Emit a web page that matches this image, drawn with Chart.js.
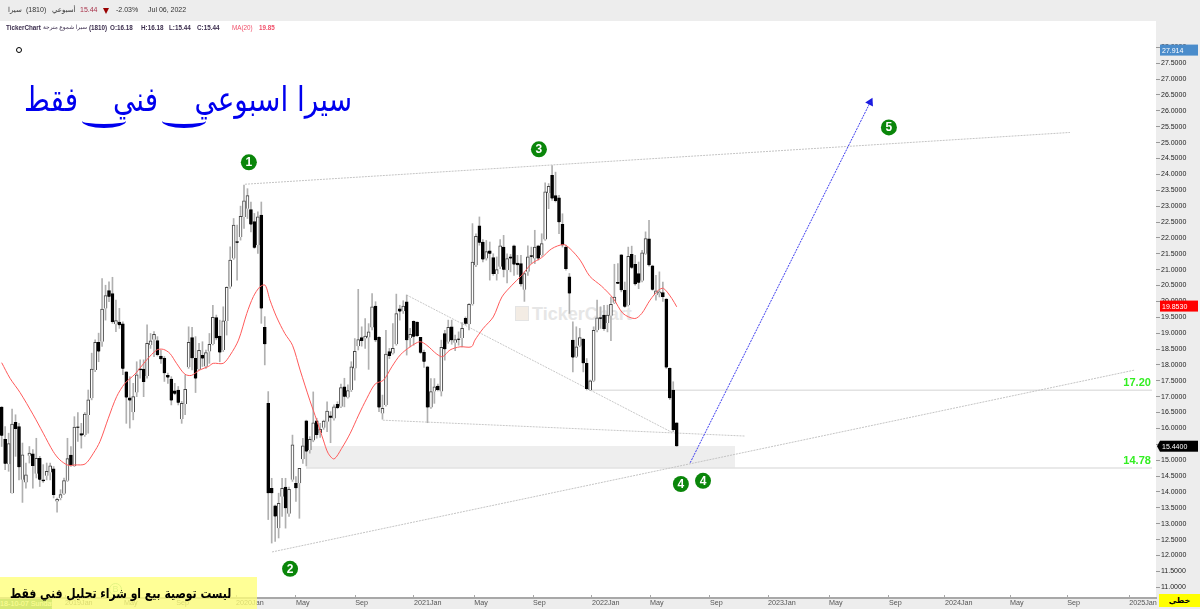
<!DOCTYPE html>
<html lang="ar">
<head>
<meta charset="utf-8">
<title>سيرا اسبوعي</title>
<style>
    html, body { margin: 0; padding: 0; background: #fff; }
    body { position: relative; width: 1200px; height: 609px; overflow: hidden; font-family: "Liberation Sans", "DejaVu Sans", sans-serif; }
    .abs { position: absolute; white-space: nowrap; }
    #chart { position: absolute; left: 0; top: 0; z-index: 1; }
    .over { z-index: 2; }
    .head { font-size: 7px; line-height: 10px; top: 5px; color: #333; }
    .sub { font-size: 6.3px; line-height: 9px; top: 23px; color: #3b2d4d; font-weight: bold; }
    .hand { color: #0000ee; font-family: "DejaVu Sans", sans-serif; font-size: 34px; line-height: 44px; top: 77px; direction: rtl; transform: scaleX(.82); transform-origin: right center; }
    .swash { height: 10px; border-bottom: 4px solid #0000ee; border-radius: 0 0 50% 50%; }
</style>
</head>
<body>
<div class="abs" style="left:0;top:0;width:1200px;height:21px;background:#ededed"></div>
<div class="abs" style="left:1156px;top:21px;width:44px;height:588px;background:#ededed"></div>
<div class="abs" style="left:0;top:598px;width:1156px;height:11px;background:#ededed"></div>
<div class="abs" style="left:515px;top:306px;width:12px;height:13px;background:#f3ece4;border:1px solid #e4e4e4"></div>
<div class="abs" style="left:532px;top:304px;font:bold 18px 'Liberation Sans',sans-serif;color:#e6e6e6">TickerChart</div>

<canvas id="chart" width="1200" height="609"></canvas>

<div class="abs over head" style="left:8px">سيرا</div>
<div class="abs over head" style="left:26px">(1810)</div>
<div class="abs over head" style="left:52px">أسبوعي</div>
<div class="abs over head" style="left:80px;color:#a8324a">15.44</div>
<div class="abs over" style="left:103px;top:8px;width:0;height:0;border-left:3.5px solid transparent;border-right:3.5px solid transparent;border-top:6px solid #990000"></div>
<div class="abs over head" style="left:116px" dir="ltr">&#x200E;-2.03%</div>
<div class="abs over head" style="left:148px">Jul 06, 2022</div>

<div class="abs over sub" style="left:6px">TickerChart</div>
<div class="abs over sub" style="left:43px;font-weight:normal;font-size:5.8px">سيرا شموع مترجة</div>
<div class="abs over sub" style="left:89px">(1810)</div>
<div class="abs over sub" style="left:110px">O:16.18</div>
<div class="abs over sub" style="left:141px">H:16.18</div>
<div class="abs over sub" style="left:169px">L:15.44</div>
<div class="abs over sub" style="left:197px">C:15.44</div>
<div class="abs over sub" style="left:232px;color:#f0506a;font-weight:normal">MA(20)</div>
<div class="abs over sub" style="left:259px;color:#f0506a">19.85</div>

<div class="abs over" style="left:16px;top:47px;width:4px;height:4px;border:1.5px solid #000;border-radius:50%"></div>

<div class="abs over hand" style="left:170px;width:182px;text-align:right">سيرا اسبوعي</div>
<div class="abs over hand" style="left:100px;width:58px;text-align:right">فني</div>
<div class="abs over hand" style="left:26px;width:52px;text-align:right">فقط</div>
<div class="abs over swash" style="left:82px;top:114px;width:44px"></div>
<div class="abs over swash" style="left:162px;top:114px;width:44px"></div>

<div class="abs over" style="left:0;top:599px;width:52px;height:10px;background:#4f9d5f;overflow:hidden;color:#fff;font-size:7.2px;line-height:10px"><span style="margin-left:-8px">2018-10-07 Sunday</span></div>
<div class="abs over" style="left:109px;top:583px;width:11px;height:11px;border:1px solid #7fc8a8;border-radius:50%;color:#7fc8a8;font-size:9px;line-height:11px;text-align:center">B</div>
<div class="abs over" style="left:0;top:577px;width:257px;height:32px;background:rgba(255,255,120,.78)"></div>
<div class="abs over" style="left:0;top:581px;width:257px;text-align:center;direction:rtl;font:bold 13.5px 'DejaVu Sans',sans-serif;line-height:24px;color:#000;transform:scaleX(.8)">ليست توصية بيع او شراء تحليل فني فقط</div>
<div class="abs over" style="left:1159px;top:594px;width:41px;height:13px;background:#ffff00;text-align:center;font:bold 8px 'DejaVu Sans',sans-serif;line-height:13px;color:#000">خطي</div>

<script src="https://cdn.jsdelivr.net/npm/chart.js@4/dist/chart.umd.js"></script>
<script>
    // weekly candles
    var opens = [
        16.67,15.66,14.87,13.96,16.19,16.06,14.38,14.30,15.14,15.20,
        14.57,15.06,14.38,14.51,14.61,14.73,13.70,13.81,13.94,14.35,
        15.16,14.82,16.05,15.84,15.79,16.42,16.95,17.84,18.71,18.73,
        19.78,20.34,20.25,19.28,19.35,19.29,17.78,16.96,16.51,17.13,
        17.88,17.87,17.65,18.63,18.79,18.77,18.28,18.21,17.67,17.55,
        17.18,17.21,16.30,16.77,17.93,18.86,18.21,17.87,18.30,17.95,
        18.42,18.66,19.49,18.91,18.47,19.38,20.46,21.35,21.88,22.03,
        22.66,22.92,22.89,22.51,21.77,22.72,19.18,16.79,14.11,13.56,
        12.86,13.85,14.15,13.31,14.38,14.27,14.27,15.03,16.24,15.32,
        15.62,16.24,15.85,16.02,16.21,16.40,16.31,16.76,16.68,17.31,
        16.97,17.21,17.89,18.59,18.86,18.83,18.86,19.18,19.85,18.87,
        16.47,16.74,18.42,18.36,18.65,19.77,19.69,19.99,18.85,19.37,
        19.35,18.87,18.40,17.94,16.66,17.16,17.33,17.16,18.99,18.73,
        19.20,18.70,18.82,18.85,19.47,19.28,19.91,21.14,22.38,21.87,
        21.35,21.59,21.38,20.86,21.09,21.71,20.98,21.40,21.75,21.21,
        21.19,20.37,20.93,21.44,21.35,21.75,21.45,21.95,23.41,23.97,
        23.33,23.26,22.43,21.71,20.77,18.78,18.26,18.60,18.81,18.05,
        17.21,17.50,19.09,19.49,19.57,19.32,19.55,19.96,20.60,21.47,
        20.35,19.88,21.48,21.17,20.88,20.65,21.50,21.97,21.12,20.19,
        20.25,20.28,20.07,17.89,17.21,16.18
    ];
    var highs = [
        16.69,16.06,15.85,16.61,16.43,16.16,15.54,14.91,15.43,15.33,
        15.69,15.12,14.86,14.91,14.91,14.80,13.81,14.07,14.44,15.69,
        15.43,16.37,16.50,16.16,16.50,17.21,18.37,18.79,19.00,20.72,
        20.51,20.62,20.76,20.04,19.78,19.36,17.79,17.63,17.42,18.10,
        18.16,18.16,19.26,18.99,19.05,18.89,18.47,18.26,17.74,17.63,
        17.42,17.32,16.85,17.69,19.20,19.18,18.89,18.68,18.73,18.47,
        18.99,19.88,19.57,19.41,19.83,20.46,21.72,22.61,22.40,23.00,
        23.66,23.55,23.13,22.77,22.82,23.13,19.52,17.16,14.43,13.59,
        13.96,14.43,14.43,14.15,15.79,14.48,14.74,15.69,16.26,15.74,
        17.15,16.32,16.16,16.26,16.84,16.53,16.74,16.84,17.40,17.58,
        17.37,18.10,18.83,20.38,19.20,19.46,19.30,20.25,19.99,18.89,
        17.05,19.09,18.52,19.30,20.23,19.88,20.02,20.20,19.15,19.39,
        19.36,18.87,18.47,17.96,17.57,17.57,17.40,18.78,19.09,19.41,
        19.41,18.94,19.04,19.33,19.51,19.93,22.45,22.13,22.66,21.95,
        21.92,21.87,21.50,21.40,21.95,22.08,21.50,21.48,21.77,21.45,
        21.45,20.93,21.75,21.71,22.24,21.77,22.13,23.73,23.71,24.28,
        24.07,23.34,22.76,21.77,20.88,19.36,19.20,19.15,18.83,18.20,
        17.52,19.20,20.04,19.83,19.88,19.88,20.14,21.17,21.19,21.48,
        20.61,21.71,21.74,21.45,21.24,21.61,22.19,22.55,21.14,20.82,
        20.93,20.61,20.09,17.91,17.47,16.18
    ];
    var lows = [
        15.43,14.70,14.65,13.96,15.12,14.38,13.67,14.12,14.91,14.12,
        14.44,14.17,14.30,14.38,14.38,13.81,13.36,13.75,13.91,14.33,
        14.80,14.80,15.59,15.38,15.75,15.85,16.90,17.79,18.10,18.58,
        19.41,19.99,19.31,19.05,19.15,17.69,16.16,16.01,16.27,17.00,
        17.58,17.00,17.58,18.52,18.26,18.28,18.05,17.48,17.42,16.74,
        17.06,16.74,16.16,16.43,17.89,17.84,17.13,17.84,17.95,17.89,
        18.05,18.63,18.79,18.10,18.42,18.94,20.41,21.32,20.67,21.93,
        22.30,22.61,22.19,21.67,21.51,19.31,18.00,13.13,12.39,12.44,
        12.55,13.23,12.86,13.23,14.33,13.70,13.17,14.90,14.82,15.22,
        15.58,15.69,15.72,15.97,15.90,15.55,16.26,16.62,16.65,16.68,
        16.95,17.16,17.52,18.47,18.59,18.52,17.86,19.10,18.73,16.53,
        16.29,16.70,18.20,18.34,18.62,19.41,19.62,18.31,18.57,18.62,
        18.89,18.36,17.92,16.18,16.63,16.79,17.18,17.02,18.15,18.68,
        18.65,18.45,18.62,18.57,19.27,19.10,19.88,21.09,21.77,21.24,
        21.30,20.67,20.82,20.67,21.03,20.77,20.58,20.93,20.82,20.85,
        20.48,20.00,20.82,21.19,21.19,21.30,21.42,21.92,22.92,23.18,
        23.13,22.13,21.71,20.98,19.62,17.78,18.23,18.57,17.78,17.21,
        17.19,17.47,19.04,19.15,19.09,19.04,18.76,19.93,20.56,20.30,
        19.81,19.85,21.03,20.51,20.40,20.61,21.48,21.11,20.35,20.04,
        20.14,20.00,17.89,16.91,15.90,15.44
    ];
    var closes = [
        15.77,14.89,15.52,16.14,15.98,14.78,15.17,14.54,15.22,14.82,
        15.06,14.38,14.34,14.65,14.82,13.90,13.77,13.92,14.36,15.05,
        14.85,16.04,16.03,15.78,16.45,16.90,17.87,18.71,18.42,19.76,
        20.18,20.15,19.35,19.40,19.25,17.88,16.97,16.88,17.00,17.69,
        17.84,17.46,18.68,18.76,18.96,18.31,18.18,17.74,17.60,16.88,
        17.09,16.81,16.79,17.23,18.71,18.21,17.57,18.46,18.20,18.39,
        18.65,19.50,18.84,18.39,19.39,20.44,21.30,22.40,21.85,22.68,
        23.17,23.33,22.42,21.69,22.66,19.78,18.65,13.96,13.96,13.23,
        13.64,14.11,13.49,14.08,15.48,14.12,14.74,15.45,15.27,15.66,
        16.18,15.79,15.97,16.23,16.55,16.34,16.68,16.64,17.29,17.00,
        17.19,17.94,18.43,18.80,18.75,18.91,19.04,19.83,18.78,16.66,
        16.63,18.34,18.28,18.52,19.62,19.68,19.85,18.78,18.96,18.89,
        18.91,18.38,18.10,16.66,17.16,17.31,17.21,18.55,18.49,19.18,
        18.78,18.80,18.79,19.15,19.30,19.91,21.24,22.05,21.85,21.32,
        21.57,21.50,20.86,21.00,21.75,21.00,21.35,21.35,21.16,21.15,
        20.54,20.88,21.40,21.41,21.71,21.35,21.82,23.45,23.62,23.24,
        23.16,22.49,21.77,21.02,20.25,18.23,18.57,18.86,18.05,17.24,
        17.50,19.09,19.48,19.45,19.13,19.57,19.91,20.14,20.57,20.35,
        19.83,21.42,21.06,20.54,20.59,21.53,21.98,21.14,20.37,20.33,
        20.30,20.14,17.92,16.95,15.95,15.44
    ];

    // MA(20) vertices, week index and price
    var maWeeks = [0,2.4,5.3,9.1,12,14.9,16.8,19.2,21.2,24.1,26.5,28.4,30.8,33.2,35.6,38.5,41.9,44.8,46.7,48.6,50.5,52.9,54.8,57.2,59.7,61.1,64,66,68.4,70.8,72.7,74.6,76.1,77.5,79.4,81.8,84,86.2,89,91,92.9,94.3,96,98.2,100.7,103.1,105.5,107.9,110.3,112.7,115.1,118,120.8,122.8,125.7,127.4,129.5,132.4,135.7,136.7,139.1,142,144.5,147.4,150.2,153.1,156,158.9,162.3,164.2,167.1,169.9,173.3,176.7,179.5,182.9,184.9,187.3,189.7,191.2,193.6,195];
    var maValues = [18.07,17.58,17.13,16.43,15.85,15.27,15.01,14.84,14.85,14.88,15.22,15.59,16.32,17.00,17.42,17.71,18.16,18.47,18.49,18.36,18.05,17.71,17.67,17.84,17.95,18.05,18.05,18.31,18.78,19.62,20.15,20.46,20.51,20.04,19.51,18.99,18.62,17.84,16.89,16.26,15.64,15.22,15.04,15.37,15.85,16.42,16.95,17.40,17.52,17.94,18.31,18.57,18.73,18.62,18.34,18.26,18.47,18.57,18.57,18.78,19.15,19.51,20.14,20.51,20.82,21.19,21.38,21.66,21.79,21.66,21.30,20.79,20.48,20.09,19.62,19.46,19.62,20.04,20.35,20.41,20.09,19.83];

    // hand drawn trend lines: [week, price, week, price]
    var topChannel = [70.3, 23.69, 308.6, 25.32];
    var bottomChannel = [78.1, 12.11, 327.4, 17.84];
    var fanLine = [117, 20.2, 193.9, 15.86];
    var lowLine = [110.1, 16.26, 214.7, 15.76];
    var arrowLine = [198.9, 14.92, 250.9, 26.27];
    var level1720 = [170, 17.2, 332.3, 17.2];
    var level1478 = [87.9, 14.75, 332.3, 14.75];
    var zone = [87.9, 211.9, 14.75, 15.45];

    var waveWeeks = [71.4, 83.3, 155.2, 196.2, 202.6, 256.3];
    var wavePrices = [24.38, 11.58, 24.79, 14.25, 14.35, 25.48];
    var waveNames = ['1', '2', '3', '4', '4', '5'];

    var levelWeeks = [328, 328];
    var levelPrices = [17.43, 14.99];
    var levelNames = ['17.20', '14.78'];

    var yTicks = [11,11.5,12,12.5,13,13.5,14,14.5,15,15.5,16,16.5,17,17.5,18,18.5,19,19.5,20,20.5,21,21.5,22,22.5,23,23.5,24,24.5,25,25.5,26,26.5,27,27.5,28];
    var xTickWeeks = [18.3,35.3,50.4,67.7,85,102.1,119.1,136.5,153.5,170.5,187.3,204.6,221.4,239,256.3,272.5,291.3,307.8,325.7];
    var xTickNames = ['2019Jan','May','Sep','2020Jan','May','Sep','2021Jan','May','Sep','2022Jan','May','Sep','2023Jan','May','Sep','2024Jan','May','Sep','2025Jan'];

    var tagPrices = [27.914, 19.853, 15.44];
    var tagNames = ['27.914', '19.8530', '15.4400'];
    var tagColors = ['#4a8ccb', '#ff0000', '#000000'];

    function segment(s) {
        return [{x: s[0], y: s[1]}, {x: s[2], y: s[3]}];
    }

    function trend(s, color, width, dash, order) {
        return {
            type: 'line',
            data: segment(s),
            borderColor: color,
            borderWidth: width,
            borderDash: dash,
            pointRadius: 0,
            order: order
        };
    }

    var bodies = opens.map(function(o, i) {
        return {x: i, y: [o, closes[i]]};
    });
    var wicks = highs.map(function(h, i) {
        return {x: i, y: [lows[i], h]};
    });
    var maPoints = maValues.map(function(v, i) {
        return {x: maWeeks[i], y: v};
    });
    var wavePoints = wavePrices.map(function(v, i) {
        return {x: waveWeeks[i], y: v};
    });

    // numbers in the wave badges, green levels, price tags on the axis
    var overlayPlugin = {
        id: 'overlay',
        afterDraw: function(chart) {
            var ctx = chart.ctx;
            var xs = chart.scales.x;
            var ys = chart.scales.y;
            ctx.save();
            ctx.textAlign = 'center';
            ctx.textBaseline = 'middle';
            ctx.fillStyle = '#fff';
            ctx.font = 'bold 12px "Liberation Sans"';
            waveNames.forEach(function(name, i) {
                ctx.fillText(name, xs.getPixelForValue(waveWeeks[i]), ys.getPixelForValue(wavePrices[i]) + 0.5);
            });
            ctx.fillStyle = '#33ee22';
            ctx.font = 'bold 11px "Liberation Sans"';
            levelNames.forEach(function(name, i) {
                ctx.fillText(name, xs.getPixelForValue(levelWeeks[i]), ys.getPixelForValue(levelPrices[i]));
            });
            ctx.textAlign = 'left';
            ctx.font = '7px "Liberation Sans"';
            tagNames.forEach(function(name, i) {
                var y = ys.getPixelForValue(tagPrices[i]);
                ctx.fillStyle = tagColors[i];
                ctx.fillRect(1160, y - 5.5, 38, 11);
                if (i === 2) {
                    ctx.beginPath();
                    ctx.moveTo(1157, y);
                    ctx.lineTo(1160, y - 5.5);
                    ctx.lineTo(1160, y + 5.5);
                    ctx.fill();
                }
                ctx.fillStyle = '#fff';
                ctx.fillText(name, 1162, y + 0.5);
            });
            ctx.restore();
        }
    };

    var chart = new Chart(document.getElementById('chart').getContext('2d'), {
        type: 'bar',
        data: {
            datasets: [
                {
                    type: 'line',
                    data: [{x: zone[0], y: zone[3]}, {x: zone[1], y: zone[3]}],
                    fill: {value: zone[2]},
                    backgroundColor: '#eeeeee',
                    borderWidth: 0,
                    pointRadius: 0,
                    order: 100
                },
                trend(level1720, '#e2e2e2', 1.5, [], 90),
                trend(level1478, '#e2e2e2', 1.5, [], 90),
                trend(topChannel, '#c4c4c4', 1, [2, 1], 80),
                trend(bottomChannel, '#c4c4c4', 1, [2, 1], 80),
                trend(fanLine, '#c8c8c8', 1, [2, 1], 80),
                trend(lowLine, '#c8c8c8', 1, [2, 1], 80),
                {
                    data: wicks,
                    backgroundColor: '#b0b0b0',
                    borderWidth: 0,
                    barThickness: 1,
                    order: 50
                },
                {
                    data: bodies,
                    backgroundColor: function(c) {
                        return closes[c.dataIndex] >= opens[c.dataIndex] ? '#ffffff' : '#000000';
                    },
                    borderColor: function(c) {
                        return closes[c.dataIndex] >= opens[c.dataIndex] ? '#444444' : '#000000';
                    },
                    borderWidth: 1,
                    barThickness: 3,
                    order: 40
                },
                {
                    type: 'line',
                    data: maPoints,
                    borderColor: '#ff5a5a',
                    borderWidth: 1,
                    pointRadius: 0,
                    tension: 0.3,
                    order: 30
                },
                trend(arrowLine, '#3a3aee', 1, [2, 1], 20),
                {
                    type: 'line',
                    data: [{x: arrowLine[2], y: arrowLine[3]}],
                    showLine: false,
                    pointStyle: 'triangle',
                    pointRotation: 27,
                    pointRadius: 5,
                    pointBackgroundColor: '#1a1ae0',
                    pointBorderWidth: 0,
                    order: 20
                },
                {
                    type: 'line',
                    data: wavePoints,
                    showLine: false,
                    pointRadius: 8,
                    pointBackgroundColor: '#0a860a',
                    pointBorderWidth: 0,
                    order: 10
                }
            ]
        },
        options: {
            responsive: false,
            animation: false,
            events: [],
            layout: {autoPadding: false, padding: {top: 21, left: 0, right: 0, bottom: 0}},
            datasets: {bar: {grouped: false}},
            plugins: {legend: {display: false}, tooltip: {enabled: false}, title: {display: false}},
            scales: {
                x: {
                    type: 'linear',
                    offset: false,
                    min: -0.49,
                    max: 333.46,
                    afterBuildTicks: function(axis) {
                        axis.ticks = xTickWeeks.map(function(w) { return {value: w}; });
                    },
                    afterFit: function(axis) { axis.height = 11; },
                    grid: {drawOnChartArea: false, offset: false, tickLength: -3, color: '#a8a8a8'},
                    border: {color: '#a8a8a8', width: 2},
                    ticks: {
                        autoSkip: false,
                        maxRotation: 0,
                        align: 'start',
                        padding: 4,
                        color: '#555',
                        font: {family: '"Liberation Sans"', size: 7.2},
                        callback: function(v, i) { return xTickNames[i]; }
                    }
                },
                y: {
                    position: 'right',
                    min: 10.66,
                    max: 28.83,
                    afterBuildTicks: function(axis) {
                        axis.ticks = yTicks.map(function(v) { return {value: v}; });
                    },
                    afterFit: function(axis) { axis.width = 44; },
                    grid: {drawOnChartArea: false, tickLength: 4, color: '#999'},
                    border: {display: false},
                    ticks: {
                        autoSkip: false,
                        padding: 1,
                        color: '#222',
                        font: {family: '"Liberation Sans"', size: 7},
                        callback: function(v) { return v.toFixed(4); }
                    }
                }
            }
        },
        plugins: [overlayPlugin]
    });
</script>
</body>
</html>
